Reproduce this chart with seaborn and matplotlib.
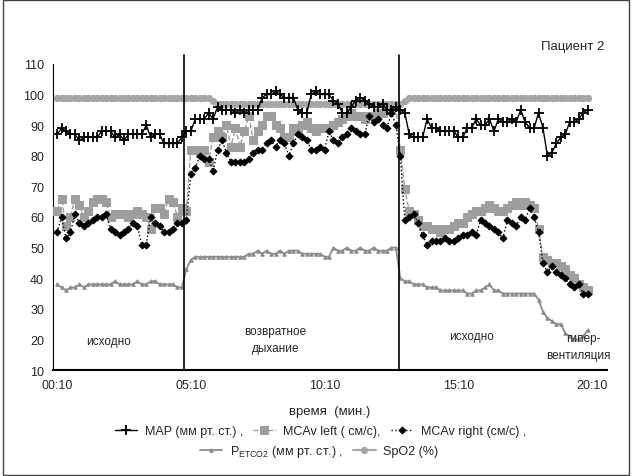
import numpy as np
import pandas as pd
import matplotlib
matplotlib.use('Agg')
import matplotlib.pyplot as plt
import seaborn as sns
from matplotlib.patches import Rectangle

# time axis: one sample every 10 s, from 00:10
seconds = np.arange(10, 1210, 10)

map_vals = [87, 89, 88, 87, 87, 85, 86, 86, 86, 86, 88, 88, 88, 86, 87, 85, 87, 87, 87, 87,
            90, 86, 87, 87, 84, 84, 84, 84, 86,
            88, 88, 92, 92, 92, 94, 92, 96, 95, 95, 95, 94, 95, 94, 95, 95, 95, 99, 100, 100,
            101, 100, 99, 99, 99, 95,
            94, 94, 100, 101, 100, 100, 100, 98, 97, 94, 94, 96, 98, 99, 98, 97, 96, 96, 97, 95,
            95, 96,
            95, 94, 87, 86, 86, 86, 92, 89, 89, 88, 88, 88, 88, 86, 86, 89, 89, 92, 90, 90,
            92, 88, 92, 91, 91, 92, 91, 95, 91, 89, 89, 94, 89, 80, 81, 84, 86, 87, 91, 91,
            92, 94, 95]

mca_left = [62, 66, 57, 60, 66, 64, 60, 62, 65, 66, 66, 65, 60, 61, 61, 61, 60, 61, 62, 61,
            60, 56, 63, 63, 61, 66, 65, 60, 63,
            62, 82, 82, 81, 82, 78, 86, 88, 86, 90, 83, 89, 83, 88, 93, 85, 88, 90, 93, 93,
            90, 89, 86, 86, 89, 88, 90, 91, 89, 88, 89, 89, 89, 90, 91, 92, 93, 94, 93, 93,
            92, 93, 93, 94, 94, 95, 95, 96,
            82, 69, 62, 61, 59, 57, 57, 56, 56, 55, 56, 56, 57, 58, 58, 60, 61, 62, 62, 63,
            64, 63, 62, 62, 63, 64, 65, 64, 65, 64, 63, 56, 47, 46, 45, 45, 44, 43, 41, 40,
            38, 37, 36]

mca_right = [55, 60, 53, 55, 61, 58, 57, 58, 59, 60, 60, 61, 56, 55, 54, 55, 56, 58, 57, 51,
             51, 60, 58, 57, 55, 55, 56, 58, 58,
             59, 74, 76, 80, 79, 79, 75, 82, 85, 81, 78, 78, 78, 78, 79, 81, 82, 82, 84, 85,
             83, 85, 84, 80, 84, 87, 86, 85, 82, 82, 83, 82, 88, 85, 84, 86, 87, 89, 88, 87,
             87, 93, 91, 92, 90, 89, 94, 90,
             80, 59, 60, 61, 58, 54, 51, 52, 52, 52, 53, 52, 52, 53, 54, 54, 55, 54, 59, 58,
             57, 56, 55, 53, 59, 58, 57, 60, 59, 63, 60, 55, 45, 42, 44, 42, 41, 40, 38, 37,
             38, 35, 35]

petco2 = [38, 37, 36, 37, 37, 38, 37, 38, 38, 38, 38, 38, 38, 39, 38, 38, 38, 38, 39, 38,
          38, 39, 39, 38, 38, 38, 38, 37, 37,
          43, 46, 47, 47, 47, 47, 47, 47, 47, 47, 47, 47, 47, 47, 48, 48, 49, 48, 49, 48,
          48, 49, 48, 49, 49, 49, 48, 48, 48, 48, 48, 47, 47, 50, 49, 49, 50, 49, 49, 50,
          49, 49, 50, 49, 49, 49, 50, 50,
          40, 39, 39, 38, 38, 38, 37, 37, 37, 36, 36, 36, 36, 36, 36, 35, 35, 36, 36, 37,
          38, 36, 36, 35, 35, 35, 35, 35, 35, 35, 35, 33, 29, 27, 26, 25, 25, 22, 21, 20,
          20, 21, 23]

spo2 = [99, 99, 99, 99, 99, 99, 99, 99, 99, 99, 99, 99, 99, 99, 99, 99, 99, 99, 99, 99,
        99, 99, 99, 99, 99, 99, 99, 99, 99, 99, 99, 99, 99, 99, 99, 98, 97, 97, 97, 97,
        97, 97, 97, 97, 97, 97, 97, 97, 97, 97, 97, 97, 97, 97, 97, 97, 97, 97, 97, 97,
        97, 97, 97, 97, 97, 97, 97, 97, 97, 97, 97, 97, 97, 97, 97, 97, 97, 97, 98, 99,
        99, 99, 99, 99, 99, 99, 99, 99, 99, 99, 99, 99, 99, 99, 99, 99, 99, 99, 99, 99,
        99, 99, 99, 99, 99, 99, 99, 99, 99, 99, 99, 99, 99, 99, 99, 99, 99, 99, 99, 99]

tick_pos = [10, 310, 610, 910, 1210]
tick_labels = ['00:10', '05:10', '10:10', '15:10', '20:10']
phase_bounds = [295, 776]

df = pd.DataFrame({'t': seconds, 'MAP': map_vals, 'MCA_L': mca_left, 'MCA_R': mca_right,
                   'PETCO2': petco2, 'SpO2': spo2})

sns.set_style('white')
plt.rcParams['font.family'] = ['Liberation Sans', 'DejaVu Sans']
plt.rcParams['mathtext.default'] = 'regular'

fig = plt.figure(figsize=(6.32, 4.77), dpi=100)
ax = fig.add_axes([0.084, 0.222, 0.876, 0.642])

sns.lineplot(data=df, x='t', y='MAP', ax=ax, color='black', lw=1, marker='+', markersize=7,
             markeredgewidth=1.3, markeredgecolor='black', label='MAP (мм рт. ст.) ,', zorder=5)
sns.lineplot(data=df, x='t', y='MCA_L', ax=ax, color='#9e9e9e', lw=1, linestyle='--', marker='s',
             markersize=5.5, markeredgecolor='#9e9e9e', label='MCAv left ( см/с),', zorder=3)
sns.lineplot(data=df, x='t', y='MCA_R', ax=ax, color='black', lw=1, linestyle=':', marker='D',
             markersize=3.5, markeredgecolor='black', label='MCAv right (см/с) ,', zorder=4)
sns.lineplot(data=df, x='t', y='PETCO2', ax=ax, color='#8c8c8c', lw=1.3, marker='^', markersize=2.5,
             markeredgecolor='#8c8c8c', label='P$_{ETCO2}$ (мм рт. ст.) ,', zorder=3)
sns.lineplot(data=df, x='t', y='SpO2', ax=ax, color='#a6a6a6', lw=1.5, marker='o', markersize=4.5,
             markeredgecolor='#a6a6a6', label='SpO2 (%)', zorder=4)

for b in phase_bounds:
    ax.axvline(b, ymin=0, ymax=1.03, color='black', lw=1.2, clip_on=False, zorder=6)

ax.set_xlim(1, 1243)
ax.set_ylim(10, 110)
ax.set_yticks(range(10, 111, 10))
ax.set_xticks(tick_pos)
ax.set_xticklabels(tick_labels)
ax.tick_params(axis='both', labelsize=9, direction='out', length=3, width=1, color='black')
ax.set_xlabel('время  (мин.)', fontsize=9.5, labelpad=10)
ax.set_ylabel('')
sns.despine(ax=ax)
ax.spines['left'].set_color('black')
ax.spines['bottom'].set_color('black')
ax.spines['bottom'].set_linewidth(1.5)

ax.text(125, 19.5, 'исходно', ha='center', va='center', fontsize=8.5)
ax.text(500, 20, 'возвратное\nдыхание', ha='center', va='center', fontsize=8.5, linespacing=1.5)
ax.text(940, 21, 'исходно', ha='center', va='center', fontsize=8.5)
ax.text(1190, 20.5, 'гипер-', ha='center', va='center', fontsize=8.5)
ax.text(1180, 15, 'вентиляция', ha='center', va='center', fontsize=8.5)

fig.text(0.957, 0.901, 'Пациент 2', ha='right', va='center', fontsize=9.5)

handles, labels = ax.get_legend_handles_labels()
ax.get_legend().remove()
fig.legend(handles[:3], labels[:3], loc='center', bbox_to_anchor=(0.507, 0.094), ncol=3,
           frameon=False, fontsize=9, handlelength=1.8, handletextpad=0.6, columnspacing=0.8)
fig.legend(handles[3:], labels[3:], loc='center', bbox_to_anchor=(0.505, 0.052), ncol=2,
           frameon=False, fontsize=9, handlelength=1.8, handletextpad=0.6, columnspacing=0.8)

fig.patches.append(Rectangle((0.004, 0.003), 0.992, 0.994, transform=fig.transFigure,
                             fill=False, edgecolor='#444444', lw=1))

fig.savefig('out.png', dpi=100)
